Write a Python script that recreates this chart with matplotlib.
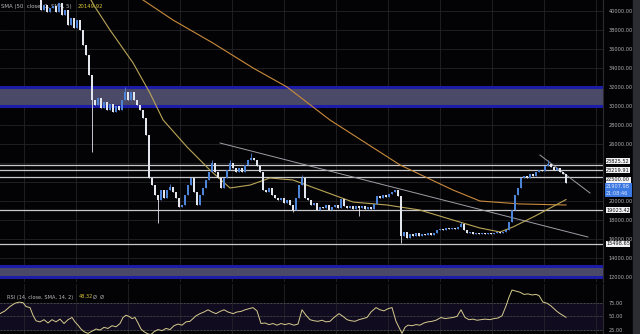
import matplotlib
matplotlib.use("Agg")
import matplotlib.pyplot as plt
import numpy as np
from matplotlib.patches import Rectangle

# daily closes, one per candle (left part sits above the visible range)
closes = [
    42600, 43100, 43500, 44200, 44700, 45200, 45600, 45300, 44700, 44000, 43000, 42200, 41300,
    40100, 40630, 39900, 40300, 40520, 39900, 40840, 39580, 40100, 38530, 39260, 38200, 39050,
    38000, 36420, 35370, 33260, 30630,
    30100, 30840, 29790, 30420, 29580, 30210, 29370, 30000, 29580, 30630, 31470, 30630, 31470,
    30630, 30100, 29580, 28740, 26950, 22420,
    21680, 20630, 20100, 21160, 20320, 21160, 21470, 20950, 20320, 19370,
    19580, 20630, 21680, 22420, 20950, 19580, 20630, 21370, 22210, 23050,
    24000, 23050, 22420, 21370, 22420, 23260, 24000, 23470, 23050, 23470,
    23050, 23790, 24320, 24530, 24320, 23680, 23050, 21160, 20950, 21370,
    20630, 20320, 20100, 20320, 19790, 20100, 19580, 19050, 20320, 21680,
    22420, 20320, 20100, 19580, 19790, 19050, 19370,
    19260, 19580, 19050, 19370, 19580, 19260, 20210, 19470, 19260, 19470,
    19160, 19470, 19260, 19470, 19160, 19370, 19160, 19680, 20530, 20320,
    20630, 20420, 20740, 20950, 21160, 20530, 16320, 16740, 16110, 16530,
    16320, 16630, 16320, 16530, 16420, 16630, 16420, 16630, 16950, 17050,
    16950, 17160, 17050, 17160, 17050, 17260, 17580, 16950, 16630, 16740,
    16530, 16630, 16530, 16630, 16530, 16630, 16530, 16630, 16740, 16630,
    16740, 16950, 17790, 19050, 20630, 21370, 22420,
    22630, 22420, 22840, 22630, 23050, 23260, 23160, 23680, 23890, 23580,
    23260, 23470, 23050, 22840, 21908,
]

# notable wicks: candle index -> (high, low); None keeps the body edge
wicks = {30: (None, 25200), 41: (32000, None), 52: (None, 17700), 56: (21800, None),
         70: (24300, None), 76: (24300, None), 83: (25100, None), 97: (None, 18850),
         100: (22750, None), 119: (None, 18400), 133: (None, 15580), 153: (17800, None),
         182: (24300, None)}

# moving averages (candle index, price)
ma50_idx = [27.7, 31, 36, 43.7, 49.3, 53.7, 61.7, 69.3, 76, 82.7, 89.3, 97, 106, 117,
            128.3, 139.3, 150.3, 159.3, 166, 170.3, 177.7, 188]
ma50_val = [42210, 40420, 38000, 34530, 31370, 28530, 25680, 23260, 21370, 21680, 22420,
            22210, 21160, 19890, 19580, 19050, 18000, 17160, 16740, 17260, 18420, 20150]
ma200_idx = [37, 47, 57, 70.3, 83.7, 95, 109.3, 132.7, 150.3, 159.3, 172.7, 188]
ma200_val = [43260, 41160, 39050, 36630, 34000, 32000, 28530, 23790, 21160, 20000, 19690, 19580]

levels = [23825.52, 23219.91, 22500.00, 19023.42, 15498.65]
zones = [(30000, 32000), (12000, 13150)]
trend_idx = [[72.7, 195.3], [179.3, 196]]
trend_val = [[26100, 16210], [24840, 20840]]

price_ticks = [12000, 14000, 16000, 18000, 20000, 22000, 24000, 26000, 28000, 30000,
               32000, 34000, 36000, 38000, 40000]
hidden_ticks = [22000, 24000]   # covered by the level labels on the reference
last_price = 21907.98
ma50_last = "20149.92"
rsi_last = "48.32"

rsi_x = [0, 5, 10, 15, 19, 23, 26, 30, 33, 36, 40, 44, 48, 52, 56, 60, 64, 68, 72, 75, 78,
         81, 84, 88, 92, 96, 100, 104, 108, 112, 116, 120, 123, 126, 129, 132, 135, 138, 141,
         144, 148, 151, 154, 158, 162, 166, 170, 174, 178, 182, 186, 190, 193, 196, 200, 204,
         208, 212, 216, 220, 224, 228, 233, 237, 241, 245, 249, 253, 257, 261, 265, 269, 273,
         277, 281, 285, 289, 294, 298, 302, 306, 310, 314, 318, 322, 326, 330, 334, 339, 343,
         347, 351, 355, 359, 363, 367, 371, 376, 380, 384, 388, 392, 396, 399, 402, 405, 408,
         412, 416, 420, 424, 428, 432, 436, 441, 445, 449, 453, 457, 461, 465, 469, 473, 477,
         481, 485, 490, 494, 498, 502, 506, 509, 512, 516, 520, 524, 528, 532, 536, 539, 543,
         547, 551, 554, 557, 560, 566]
rsi_val = [55, 60, 68, 74, 76, 75, 68, 66, 52, 42, 40, 44, 38, 44, 40, 45, 37, 44, 48, 40, 34,
           27, 22, 19, 23, 27, 25, 30, 28, 33, 31, 37, 48, 52, 50, 46, 48, 38, 27,
           22, 18, 17, 22, 26, 24, 28, 26, 33, 36, 34, 40, 41, 46, 51, 55, 58,
           62, 58, 55, 59, 62, 58, 55, 58, 59, 62, 64, 66, 60, 37, 38, 35, 37,
           34, 37, 35, 37, 34, 36, 62, 52, 44, 42, 41, 43, 40, 41, 48, 55, 50,
           44, 42, 41, 44, 46, 48, 58, 66, 62, 60, 64, 66, 41, 30, 19, 30, 34,
           33, 35, 34, 38, 40, 41, 43, 48, 46, 47, 48, 50, 62, 48, 44, 45, 43,
           44, 45, 44, 46, 47, 51, 69, 85, 98, 96, 94, 90, 91, 89, 90, 88, 76,
           74, 69, 64, 59, 55, 48.32]

BG = "#030305"
FS = 3.6
W, H = 640, 334
fig = plt.figure(figsize=(W / 100, H / 100), dpi=100, facecolor=BG)
ax = fig.add_axes([0, 1 - 282 / H, 603 / W, 282 / H], facecolor=BG)
rax = fig.add_axes([0, 0, 603 / W, 50 / H], facecolor=BG)

n = len(closes)
idx = np.arange(n)
opens = np.array([closes[0]] + closes[:-1], dtype=float)
cl = np.array(closes, dtype=float)
body_lo = np.minimum(opens, cl)
body_hi = np.maximum(opens, cl)
hi = body_hi.copy()
lo = body_lo.copy()
for k, (h, l) in wicks.items():
    if h is not None:
        hi[k] = h
    if l is not None:
        lo[k] = l
up = cl >= opens
cols = np.where(up, "#4d84d8", "#e4e6ee")

xlim = (-2 / 3, 601 / 3)
xgrid = np.arange(22 / 3, 200, 52 / 3)

for a in (ax, rax):
    a.set_xlim(*xlim)
    a.set_xticks(xgrid)
    a.tick_params(axis="x", length=0, labelbottom=False)
    a.grid(True, color="#242427", lw=0.6)
    a.set_axisbelow(True)
    for s in ("top", "left", "bottom"):
        a.spines[s].set_visible(False)
    a.spines["right"].set_color("#2a2a30")
    a.spines["right"].set_linewidth(0.8)
    a.yaxis.tick_right()
    a.tick_params(axis="y", length=0, pad=4, labelsize=FS, labelcolor="#b4b4b8")

# price panel
ax.set_ylim(11474, 41158)
ax.set_yticks(price_ticks)
ax.set_yticklabels(["" if t in hidden_ticks else f"{t:.2f}" for t in price_ticks])

for lo_z, hi_z in zones:
    ax.axhspan(lo_z, hi_z, color="#4a4a68", lw=0, zorder=1)
    ax.axhline(hi_z, color="#1c1ca6", lw=2.2, zorder=1.1)
    ax.axhline(lo_z, color="#1c1ca6", lw=2.2, zorder=1.1)

for lv in levels:
    ax.axhline(lv, color="#c9c9cc", lw=0.9, zorder=1.5)

for tx, ty in zip(trend_idx, trend_val):
    ax.plot(tx, ty, color="#9d9da6", lw=0.7, zorder=1.6)

ax.plot(ma200_idx, ma200_val, color="#c98a3c", lw=0.8, zorder=2)
ax.plot(ma50_idx, ma50_val, color="#bba657", lw=0.8, zorder=2)

ax.text(0.002, 0.985, "SMA (50, close, 0, SMA, 5)", transform=ax.transAxes, fontsize=3.9,
        color="#b9b9bd", va="top", ha="left", zorder=0.5)
ax.text(0.128, 0.985, ma50_last, transform=ax.transAxes, fontsize=3.9,
        color="#d8c23a", va="top", ha="left", zorder=0.5)

ax.vlines(idx, lo, hi, colors=cols, lw=0.6, zorder=3)
ax.bar(idx, body_hi - body_lo + 40, bottom=body_lo - 20, width=0.72, color=cols, lw=0, zorder=3)

yt = ax.get_yaxis_transform()
box = dict(boxstyle="square,pad=0.1", fc="#f2f2f4", ec="none")
label_y = [levels[0] + 380, levels[1] + 40, levels[2] - 280, levels[3], levels[4]]
for lv, ly in zip(levels, label_y):
    ax.text(1.005, ly, f"{lv:.2f}", transform=yt, fontsize=FS, color="#141414",
            va="center", ha="left", bbox=box, clip_on=False, zorder=6)
ax.text(1.005, last_price - 760, f"{last_price:.2f}\n21:08:46", transform=yt, fontsize=FS,
        color="#dfe8ff", va="center", ha="left", linespacing=1.3,
        bbox=dict(boxstyle="square,pad=0.3", fc="#3b78e2", ec="none"), clip_on=False, zorder=6)

# RSI panel
rax.set_ylim(17.9, 109)
rax.set_yticks([25, 50, 75])
rax.set_yticklabels(["25.00", "50.00", "75.00"])
rax.axhspan(25, 75, color="#110b1f", lw=0, zorder=0.5)
for lv, al in ((75, 0.8), (50, 0.55), (25, 0.8)):
    rax.axhline(lv, color="#5a5a66", lw=0.6, ls=(0, (2, 2)), alpha=al, zorder=0.8)
rsi_i = (np.array(rsi_x) - 2) / 3
rax.plot(rsi_i, rsi_val, color="#d6cc8e", lw=0.7, zorder=2)
rax.text(0.012, 0.74, "RSI (14, close, SMA, 14, 2)", transform=rax.transAxes, fontsize=3.6,
         color="#b9b9bd", va="center", ha="left")
rax.text(0.131, 0.74, rsi_last, transform=rax.transAxes, fontsize=3.6,
         color="#d8c23a", va="center", ha="left")
rax.text(0.154, 0.74, "Ø  Ø", transform=rax.transAxes, fontsize=3.6,
         color="#b9b9bd", va="center", ha="left")

fig.patches.append(Rectangle((633 / W, 0), 7 / W, 1, transform=fig.transFigure,
                             color="#2c2c33", zorder=0))
fig.savefig("out.png", dpi=100, facecolor=BG)
